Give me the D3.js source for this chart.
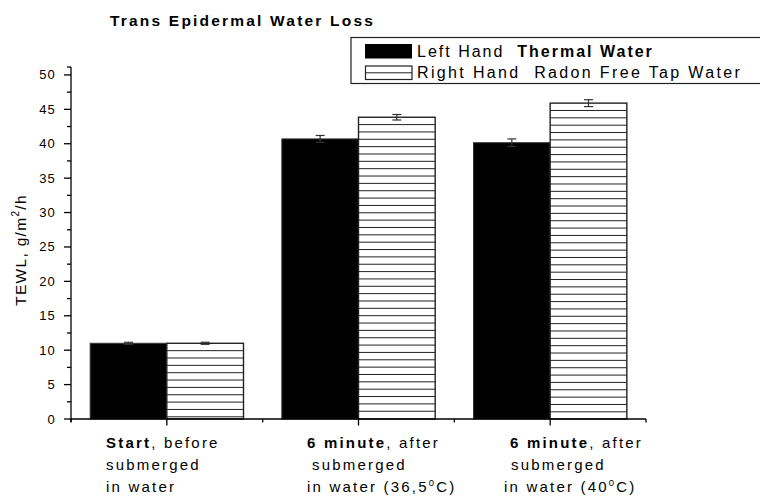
<!DOCTYPE html>
<html>
<head>
<meta charset="utf-8">
<script src="https://cdn.jsdelivr.net/npm/d3@7"></script>
<style>
  html, body { margin: 0; padding: 0; background: #fff; }
  svg { display: block; font-family: "Liberation Sans", Arial, sans-serif; }
</style>
</head>
<body>
<svg id="chart" width="760" height="496"></svg>
<script>
// Trans epidermal water loss, left vs right hand, three measurement moments
const categories = ["start", "after36", "after40"];
const thermalWater = [11.0, 40.7, 40.15];
const thermalErr = [0.15, 0.5, 0.55];
const tapWater = [11.0, 43.85, 45.9];
const tapErr = [0.15, 0.4, 0.5];
const yTicks = [0, 5, 10, 15, 20, 25, 30, 35, 40, 45, 50];
const seriesNames = ["Left Hand  ", "Right Hand  Radon Free Tap Water"];

const svg = d3.select("#chart");
const ink = "#000";

const x = d3.scaleBand().domain(categories).range([71, 646]).paddingInner(0).paddingOuter(0);
const y = d3.scaleLinear().domain([0, 51.15]).range([419, 67]);

const barW = x.bandwidth() * 0.4;
const cx = d => x(d) + x.bandwidth() / 2;

// Title
svg.append("text")
  .attr("x", 110).attr("y", 26)
  .attr("font-size", 15.5).attr("font-weight", "bold")
  .attr("letter-spacing", 2.2)
  .text("Trans Epidermal Water Loss");

// Y axis
const yAxis = svg.append("g");
yAxis.append("line").attr("x1", 71).attr("x2", 71).attr("y1", y.range()[1]).attr("y2", 422)
  .attr("stroke", ink).attr("stroke-width", 1.3);
yAxis.append("line").attr("x1", 67).attr("x2", 71).attr("y1", y.range()[1]).attr("y2", y.range()[1])
  .attr("stroke", ink).attr("stroke-width", 1.3);
const minorY = d3.range(2.5, 51, 5);
yAxis.selectAll("line.minor").data(minorY).join("line").attr("class", "minor")
  .attr("x1", 67).attr("x2", 71).attr("y1", d => y(d)).attr("y2", d => y(d))
  .attr("stroke", ink).attr("stroke-width", 1.3);
yAxis.selectAll("line.major").data(yTicks).join("line").attr("class", "major")
  .attr("x1", 64).attr("x2", 71).attr("y1", d => y(d)).attr("y2", d => y(d))
  .attr("stroke", ink).attr("stroke-width", 1.3);
yAxis.selectAll("text").data(yTicks).join("text")
  .attr("x", 56).attr("y", d => y(d) + 4.5)
  .attr("text-anchor", "end").attr("font-size", 13).attr("letter-spacing", 1.2)
  .text(d => d);

// Y axis title
const yTitle = svg.append("text")
  .attr("transform", "translate(26,250) rotate(-90)")
  .attr("text-anchor", "middle").attr("font-size", 15.5).attr("letter-spacing", 1.3);
yTitle.append("tspan").text("TEWL, g/m");
yTitle.append("tspan").attr("font-size", 10).attr("dy", -7).text("2");
yTitle.append("tspan").attr("dy", 7).text("/h");

// Bars: thermal water (solid)
svg.selectAll("rect.thermal").data(categories).join("rect").attr("class", "thermal")
  .attr("x", d => cx(d) - barW).attr("width", barW)
  .attr("y", (d, i) => y(thermalWater[i]))
  .attr("height", (d, i) => y(0) - y(thermalWater[i]))
  .attr("fill", "#000").attr("stroke", "#333").attr("stroke-width", 1);

// Bars: tap water (horizontal hatch)
const tapG = svg.selectAll("g.tap").data(categories).join("g").attr("class", "tap");
tapG.append("rect")
  .attr("x", d => cx(d)).attr("width", barW)
  .attr("y", (d, i) => y(tapWater[i]))
  .attr("height", (d, i) => y(0) - y(tapWater[i]))
  .attr("fill", "#fff").attr("stroke", "#222").attr("stroke-width", 1.4);
const hatchStep = 7.35;
tapG.each(function (d, i) {
  const top = y(tapWater[i]);
  const ys = d3.range(top + hatchStep, y(0) - 1, hatchStep);
  d3.select(this).selectAll("line").data(ys).join("line")
    .attr("x1", cx(d)).attr("x2", cx(d) + barW)
    .attr("y1", v => v).attr("y2", v => v)
    .attr("stroke", "#222").attr("stroke-width", 1);
});

// Error bars
function errorBars(vals, errs, offset, cls) {
  const g = svg.selectAll("g." + cls).data(categories).join("g").attr("class", cls);
  g.append("line")
    .attr("x1", d => cx(d) + offset).attr("x2", d => cx(d) + offset)
    .attr("y1", (d, i) => y(vals[i] - errs[i])).attr("y2", (d, i) => y(vals[i] + errs[i]))
    .attr("stroke", "#333").attr("stroke-width", 1.2);
  [1, -1].forEach(s => {
    g.append("line")
      .attr("x1", d => cx(d) + offset - 4.5).attr("x2", d => cx(d) + offset + 4.5)
      .attr("y1", (d, i) => y(vals[i] + s * errs[i])).attr("y2", (d, i) => y(vals[i] + s * errs[i]))
      .attr("stroke", "#333").attr("stroke-width", 1.2);
  });
}
errorBars(thermalWater, thermalErr, -barW / 2, "errThermal");
errorBars(tapWater, tapErr, barW / 2, "errTap");

// X axis
const xAxis = svg.append("g");
xAxis.append("line").attr("x1", 71).attr("x2", 646).attr("y1", 419).attr("y2", 419)
  .attr("stroke", ink).attr("stroke-width", 1.3);
const edges = categories.map(c => x(c)).concat([x.range()[1]]);
xAxis.selectAll("line.minor").data(edges).join("line").attr("class", "minor")
  .attr("x1", d => d).attr("x2", d => d).attr("y1", 419).attr("y2", 422.5)
  .attr("stroke", ink).attr("stroke-width", 1.3);
xAxis.selectAll("line.major").data(categories).join("line").attr("class", "major")
  .attr("x1", d => cx(d)).attr("x2", d => cx(d)).attr("y1", 419).attr("y2", 425.5)
  .attr("stroke", ink).attr("stroke-width", 1.3);

// X category labels (multi-line, bold lead word); each line has its own left offset
const catLabels = [
  { xs: [106, 106, 106], lines: [[["Start", true], [", before", false]], [["submerged", false]], [["in water", false]]] },
  { xs: [307, 312, 307], lines: [[["6 minute", true], [", after", false]], [["submerged", false]], [["in water (36,5", false], ["0", "sup"], ["C)", false]]] },
  { xs: [510, 511, 504], lines: [[["6 minute", true], [", after", false]], [["submerged", false]], [["in water (40", false], ["0", "sup"], ["C)", false]]] }
];
const lineBase = [448, 470, 492];
catLabels.forEach(lab => {
  lab.lines.forEach((parts, li) => {
    const t = svg.append("text").attr("x", lab.xs[li]).attr("y", lineBase[li])
      .attr("font-size", 15).attr("letter-spacing", 2.2)
      .style("white-space", "pre");
    parts.forEach(([s, kind]) => {
      const sp = t.append("tspan").text(s);
      if (kind === true) sp.attr("font-weight", "bold");
      if (kind === "sup") sp.attr("font-size", 9.5).attr("dy", -6.5);
      if (kind === false && s === "C)") sp.attr("dy", 6.5);
    });
  });
});

// Legend
const lg = svg.append("g");
lg.append("rect").attr("x", 351).attr("y", 37.5).attr("width", 420).attr("height", 46)
  .attr("fill", "#fff").attr("stroke", "#222").attr("stroke-width", 1.2);
lg.append("rect").attr("x", 365).attr("y", 44).attr("width", 47).attr("height", 14.5)
  .attr("fill", "#000");
lg.append("rect").attr("x", 365.5).attr("y", 66).attr("width", 46.5).attr("height", 13.5)
  .attr("fill", "#fff").attr("stroke", "#222").attr("stroke-width", 1.2);
lg.append("line").attr("x1", 365.5).attr("x2", 412).attr("y1", 72.8).attr("y2", 72.8)
  .attr("stroke", "#222").attr("stroke-width", 1);
const l1 = lg.append("text").attr("x", 417).attr("y", 57).attr("font-size", 16)
  .attr("letter-spacing", 2.0).style("white-space", "pre");
l1.append("tspan").text(seriesNames[0]);
l1.append("tspan").attr("font-weight", "bold").text("Thermal Water");
lg.append("text").attr("x", 417).attr("y", 78).attr("font-size", 16)
  .attr("letter-spacing", 2.35).style("white-space", "pre")
  .text(seriesNames[1]);
</script>
</body>
</html>
